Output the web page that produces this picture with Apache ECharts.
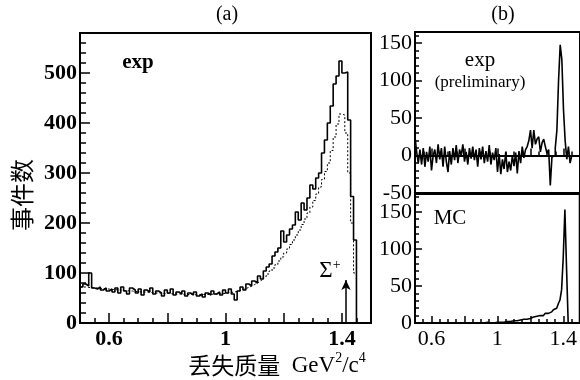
<!DOCTYPE html>
<html>
<head>
<meta charset="utf-8">
<script src="https://cdn.jsdelivr.net/npm/echarts@6/dist/echarts.min.js"></script>
<style>
    html, body { margin: 0; padding: 0; background: #fff; }
    #chart { width: 580px; height: 380px; }
</style>
</head>
<body>
<div id="chart"></div>
<script>
// 分箱：从 0.50 开始，每箱 0.01 (GeV^2/c^4)
const binStart = 0.5;
const binWidth = 0.01;

// (a) exp 实线直方图，0.50 ~ 1.44
const expA = [
    72, 78, 74, 100, 70, 68, 72, 66, 70, 64,
    68, 62, 70, 60, 72, 64, 58, 70, 66, 60,
    68, 56, 66, 62, 70, 58, 64, 60, 54, 66,
    60, 68, 56, 62, 58, 64, 54, 60, 56, 62,
    54, 58, 52, 60, 56, 64, 58, 62, 56, 66,
    60, 68, 58, 46, 64, 72, 66, 78, 74, 84,
    80, 94, 88, 104, 112, 118, 134, 142, 150, 184,
    162, 176, 188, 196, 222, 206, 240, 226, 250, 276,
    268, 290, 300, 340, 366, 400, 434, 478, 494, 524,
    500, 502, 406, 253, 166
];
// (a) 虚线（模拟）
const mcA = [
    72, 72, 71, 71, 70, 70, 69, 69, 68, 68,
    67, 67, 66, 66, 65, 65, 64, 64, 63, 63,
    62, 62, 62, 61, 61, 60, 60, 60, 59, 59,
    59, 58, 58, 58, 58, 57, 57, 57, 57, 57,
    57, 57, 57, 57, 57, 58, 58, 58, 59, 59,
    60, 61, 62, 63, 65, 67, 69, 71, 74, 77,
    80, 84, 88, 93, 98, 104, 110, 117, 124, 132,
    140, 148, 157, 166, 176, 186, 197, 208, 220, 232,
    245, 258, 272, 287, 303, 320, 345, 372, 398, 418,
    416, 380, 300, 200, 100
];
// (b) exp (preliminary)
const expB = [
    25, 5, -10, 8, -12, 10, -15, 5, -8, 12,
    -20, 0, 8, -10, 15, -5, 10, -15, 12, -8,
    -22, 6, -12, 10, -6, 14, -10, 8, 0, 15,
    -8, 5, -12, 10, -4, 12, -6, 8, -15, 10,
    -5, 12, -10, 6, -8, 14, -12, 4, -6, 10,
    -22, 2, -25, -5, -18, 5, -22, -8, -20, 0,
    -14, 4, -24, 6, -10, 12, -3, 8, 12, 20,
    34, 10, 34, 15, 22, 25, 5, 17, 22, 12,
    3, 8, -40, -2, 0, 10, 34, 100, 148, 128,
    61, 20, -5, 12, -10
];
// (b) MC
const mcB = [
    0, 0, 0, 0, 0, 0, 0, 0, 0, 0,
    0, 0, 0, 0, 0, 0, 0, 0, 0, 0,
    0, 0, 0, 0, 0, 0, 0, 0, 0, 0,
    0, 0, 0, 0, 0, 0, 0, 0, 0, 0,
    0, 0, 0, 1, 0, 0, 1, 0, 0, 1,
    0, 1, 0, 1, 1, 2, 1, 2, 2, 3,
    2, 3, 3, 4, 3, 5, 4, 5, 6, 6,
    7, 8, 7, 9, 9, 10, 11, 10, 12, 13,
    13, 14, 15, 16, 18, 20, 22, 26, 31, 45,
    89, 153, 74, 0, 0
];

// 坐标轴刻度
const xLabels = [0.6, 1, 1.4];
const xMajorTicks = [0.6, 0.8, 1, 1.2, 1.4];
const yLabelsA = [0, 100, 200, 300, 400, 500];
const yLabelsExpB = [-50, 0, 50, 100, 150];
const yLabelsMcB = [0, 50, 100, 150];

// Σ+ 位置箭头
const sigmaX = 1.414;
const sigmaArrowTop = 86;

const round3 = v => Math.round(v * 1000) / 1000;
function range(a, b, step) {
    const out = [];
    for (let v = a; v <= b + 1e-9; v += step) out.push(round3(v));
    return out;
}
function minorOf(list, major) {
    return list.filter(v => !major.some(m => Math.abs(m - v) < 1e-6));
}
// 直方图点：左边界 + 最后一个右边界
function toSteps(values) {
    const pts = values.map((v, i) => [round3(binStart + i * binWidth), v]);
    pts.push([round3(binStart + values.length * binWidth), 0]);
    return pts;
}

const serif = 'Liberation Serif, Noto Sans CJK SC';
const xMinor = minorOf(range(0.55, 1.45, 0.05), xMajorTicks);

function xAxes(grid, showLabel, len) {
    return [{
        gridIndex: grid, type: 'value', min: 0.5, max: 1.5, position: 'bottom',
        axisLine: { lineStyle: { color: '#000', width: 2 } },
        axisTick: { inside: true, length: len[0], customValues: xMinor, lineStyle: { color: '#000', width: 1.5 } },
        axisLabel: { show: showLabel, customValues: xLabels, margin: 5, color: '#000', fontFamily: serif, fontSize: 22, fontWeight: grid === 0 ? 'bold' : 'normal' },
        splitLine: { show: false }
    }, {
        gridIndex: grid, type: 'value', min: 0.5, max: 1.5, position: 'bottom',
        axisLine: { show: false },
        axisTick: { inside: true, length: len[1], customValues: xMajorTicks, lineStyle: { color: '#000', width: 1.5 } },
        axisLabel: { show: false },
        splitLine: { show: false }
    }];
}
function yAxes(grid, min, max, labels, minorStep, len, bold) {
    return [{
        gridIndex: grid, type: 'value', min: min, max: max, position: 'left',
        axisLine: { lineStyle: { color: '#000', width: 2 } },
        axisTick: { inside: true, length: len[0], customValues: minorOf(range(min, max, minorStep), labels), lineStyle: { color: '#000', width: 1.5 } },
        axisLabel: { customValues: labels, margin: 3, color: '#000', fontFamily: serif, fontSize: 22, fontWeight: bold ? 'bold' : 'normal' },
        splitLine: { show: false }
    }, {
        gridIndex: grid, type: 'value', min: min, max: max, position: 'left',
        axisLine: { show: false },
        axisTick: { inside: true, length: len[1], customValues: labels, lineStyle: { color: '#000', width: 1.5 } },
        axisLabel: { show: false },
        splitLine: { show: false }
    }];
}

const histLine = { color: '#000', width: 1.6 };

const option = {
    animation: false,
    grid: [
        { left: 80, top: 33, width: 291, height: 290, show: true, borderColor: '#000', borderWidth: 2 },
        { left: 415, top: 32, width: 167, height: 161, show: true, borderColor: '#000', borderWidth: 2 },
        { left: 415, top: 194, width: 167, height: 129, show: true, borderColor: '#000', borderWidth: 2 }
    ],
    xAxis: [
        ...xAxes(0, true, [5, 10]),
        ...xAxes(1, false, [4, 7]),
        ...xAxes(2, true, [4, 7])
    ],
    yAxis: [
        ...yAxes(0, 0, 580, yLabelsA, 20, [6, 10], true),
        ...yAxes(1, -50, 165, yLabelsExpB, 10, [4, 7], false),
        ...yAxes(2, 0, 174, yLabelsMcB, 10, [4, 7], false)
    ],
    series: [
        {
            type: 'line', xAxisIndex: 0, yAxisIndex: 0, step: 'end', showSymbol: false, silent: true,
            data: toSteps(mcA),
            lineStyle: { color: '#000', width: 1, type: [2, 2] }
        },
        {
            type: 'line', xAxisIndex: 0, yAxisIndex: 0, step: 'end', showSymbol: false, silent: true,
            data: toSteps(expA),
            lineStyle: histLine,
            markLine: {
                silent: true,
                symbol: ['none', 'arrow'],
                symbolSize: [7, 10],
                label: { show: false },
                lineStyle: { color: '#000', width: 1.5, type: 'solid' },
                data: [[{ coord: [sigmaX, 0] }, { coord: [sigmaX, sigmaArrowTop] }]]
            }
        },
        {
            type: 'line', xAxisIndex: 2, yAxisIndex: 2, step: 'end', showSymbol: false, silent: true,
            data: toSteps(expB),
            lineStyle: histLine,
            markLine: {
                silent: true,
                symbol: 'none',
                label: { show: false },
                lineStyle: { color: '#000', width: 1.5, type: 'solid' },
                data: [{ yAxis: 0 }]
            }
        },
        {
            type: 'line', xAxisIndex: 4, yAxisIndex: 4, step: 'end', showSymbol: false, silent: true,
            data: toSteps(mcB),
            lineStyle: histLine
        }
    ],
    graphic: [
        { type: 'text', x: 227, y: 15, style: { text: '(a)', fontFamily: serif, fontSize: 20, fill: '#000', align: 'center', verticalAlign: 'middle' } },
        { type: 'text', x: 503, y: 15, style: { text: '(b)', fontFamily: serif, fontSize: 20, fill: '#000', align: 'center', verticalAlign: 'middle' } },
        { type: 'text', x: 138, y: 63, style: { text: 'exp', fontFamily: serif, fontSize: 21, fontWeight: 'bold', fill: '#000', align: 'center', verticalAlign: 'middle' } },
        { type: 'text', x: 480, y: 60, style: { text: 'exp', fontFamily: serif, fontSize: 21, fill: '#000', align: 'center', verticalAlign: 'middle' } },
        { type: 'text', x: 480, y: 83, style: { text: '(preliminary)', fontFamily: serif, fontSize: 17, fill: '#000', align: 'center', verticalAlign: 'middle' } },
        { type: 'text', x: 450, y: 218, style: { text: 'MC', fontFamily: serif, fontSize: 21, fill: '#000', align: 'center', verticalAlign: 'middle' } },
        {
            type: 'text', x: 330, y: 270,
            style: {
                text: '{s|Σ}{p|+}', align: 'center', verticalAlign: 'middle',
                rich: {
                    s: { fontFamily: serif, fontSize: 23, lineHeight: 24, verticalAlign: 'bottom', fill: '#000' },
                    p: { fontFamily: serif, fontSize: 14, lineHeight: 14, verticalAlign: 'top', fill: '#000' }
                }
            }
        },
        {
            type: 'text', x: 22, y: 195, rotation: Math.PI / 2,
            style: { text: '事件数', fontFamily: 'Noto Sans CJK SC', fontSize: 24, fill: '#000', align: 'center', verticalAlign: 'middle' }
        },
        {
            type: 'text', x: 277, y: 364,
            style: {
                text: '{c|丢失质量}{t|  GeV}{p|2}{t|/c}{p|4}', align: 'center', verticalAlign: 'middle',
                rich: {
                    c: { fontFamily: 'Noto Sans CJK SC', fontSize: 23, lineHeight: 26, verticalAlign: 'bottom', fill: '#000' },
                    t: { fontFamily: serif, fontSize: 23, lineHeight: 26, verticalAlign: 'bottom', fill: '#000' },
                    p: { fontFamily: serif, fontSize: 14, lineHeight: 14, verticalAlign: 'top', fill: '#000' }
                }
            }
        }
    ]
};

const myChart = echarts.init(document.getElementById('chart'));
myChart.setOption(option);
</script>
</body>
</html>
